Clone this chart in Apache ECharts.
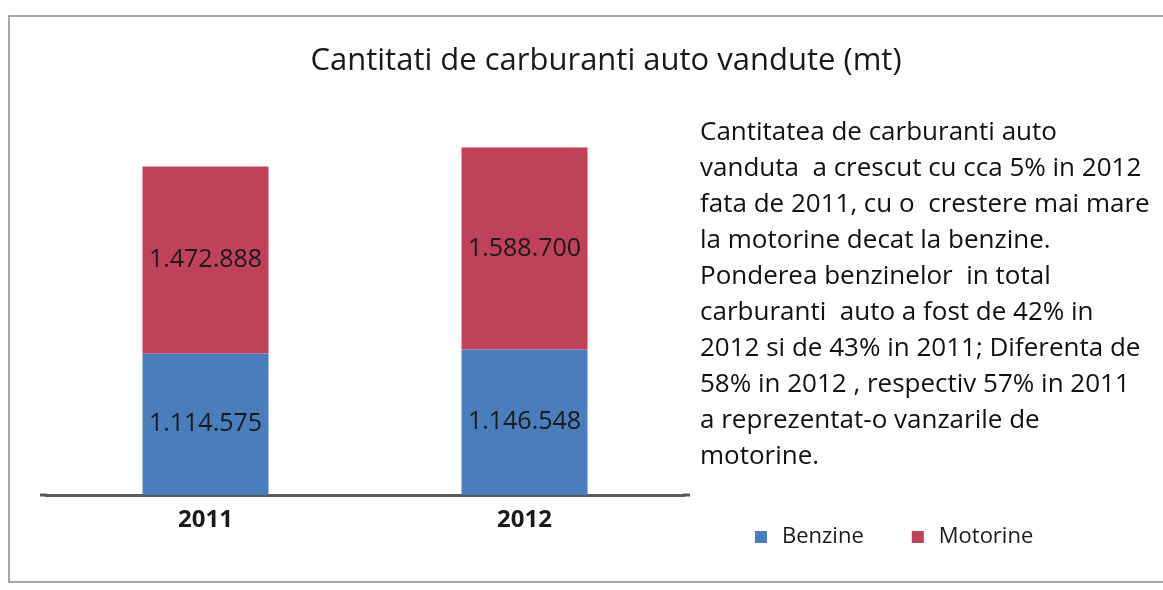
<!DOCTYPE html>
<html>
<head>
<meta charset="utf-8">
<script src="https://cdn.jsdelivr.net/npm/echarts@6/dist/echarts.min.js"></script>
<style>
  html, body { margin: 0; padding: 0; background: #fff; }
  #chart { width: 1163px; height: 590px; }
</style>
</head>
<body>
<div id="chart"></div>
<script>
var years = ['2011', '2012'];
var benzine = [1114575, 1146548];
var motorine = [1472888, 1588700];
var noteLines = [
    'Cantitatea de carburanti auto',
    'vanduta  a crescut cu cca 5% in 2012',
    'fata de 2011, cu o  crestere mai mare',
    'la motorine decat la benzine.',
    'Ponderea benzinelor  in total',
    'carburanti  auto a fost de 42% in',
    '2012 si de 43% in 2011; Diferenta de',
    '58% in 2012 , respectiv 57% in 2011',
    'a reprezentat-o vanzarile de',
    'motorine.'
];

var font = 'Open Sans';

function fmt(v) {
    return String(v).replace(/\B(?=(\d{3})+(?!\d))/g, '.');
}

var chart = echarts.init(document.getElementById('chart'));

var option = {
    backgroundColor: '#fff',
    animation: false,
    title: {
        text: 'Cantitati de carburanti auto vandute (mt)',
        left: 601,
        textAlign: 'center',
        top: 41,
        textStyle: { fontFamily: font, fontSize: 31, fontWeight: 'normal', color: '#1a1a1a' }
    },
    legend: {
        left: 750,
        top: 521,
        itemWidth: 12,
        itemHeight: 12,
        itemGap: 48,
        icon: 'rect',
        textStyle: { fontFamily: font, fontSize: 22, color: '#1a1a1a', padding: [0, 0, 0, 10] },
        data: ['Benzine', 'Motorine']
    },
    grid: { left: 46, right: 479, top: 114, bottom: 95 },
    xAxis: {
        type: 'category',
        data: years,
        axisTick: { show: false },
        axisLine: { lineStyle: { color: '#5a5a5a', width: 3 } },
        axisLabel: { fontFamily: font, fontSize: 24, fontWeight: 'bold', color: '#1a1a1a', margin: 13 }
    },
    yAxis: {
        type: 'value',
        min: 0,
        max: 3000000,
        show: false,
        splitLine: { show: false }
    },
    series: [
        {
            name: 'Benzine',
            type: 'bar',
            stack: 'total',
            barWidth: 126,
            data: benzine,
            itemStyle: { color: '#4a7dbb' },
            label: {
                show: true,
                position: 'inside',
                fontFamily: font,
                fontSize: 25,
                color: '#1a1a1a',
                formatter: function (p) { return fmt(p.value); }
            }
        },
        {
            name: 'Motorine',
            type: 'bar',
            stack: 'total',
            barWidth: 126,
            data: motorine,
            itemStyle: { color: '#c0415a' },
            label: {
                show: true,
                position: 'inside',
                fontFamily: font,
                fontSize: 25,
                color: '#1a1a1a',
                formatter: function (p) { return fmt(p.value); }
            }
        }
    ],
    graphic: [
        {
            type: 'rect',
            shape: { x: 9, y: 16, width: 1160, height: 566 },
            style: { fill: 'none', stroke: '#8a8a8a', lineWidth: 1.5 },
            silent: true
        },
        {
            type: 'line',
            shape: { x1: 40, y1: 495, x2: 47, y2: 495 },
            style: { stroke: '#5a5a5a', lineWidth: 3 },
            silent: true
        },
        {
            type: 'line',
            shape: { x1: 683, y1: 495, x2: 690, y2: 495 },
            style: { stroke: '#5a5a5a', lineWidth: 3 },
            silent: true
        },
        {
            type: 'text',
            left: 700,
            top: 115,
            style: {
                text: noteLines.join('\n'),
                fontFamily: font,
                fontSize: 26,
                lineHeight: 36,
                fill: '#111'
            }
        }
    ]
};

chart.setOption(option);
</script>
</body>
</html>
